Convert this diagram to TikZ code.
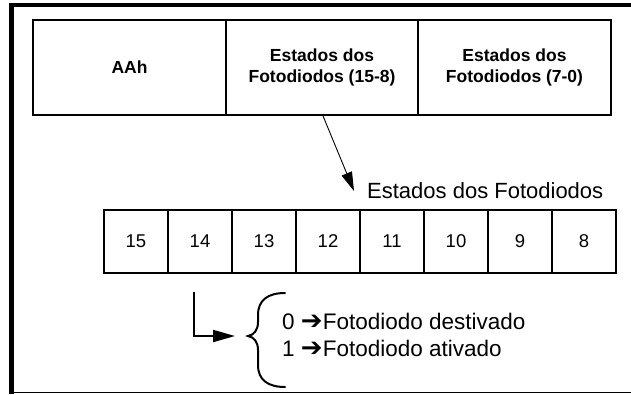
\documentclass[tikz,border=0pt]{standalone}
\usepackage{fontspec}
\setmainfont{Liberation Sans}
\newfontfamily\symfnt{DejaVu Sans}
\usetikzlibrary{arrows.meta}
\newcommand{\heavyarrow}{{\symfnt\fontsize{26}{26}\selectfont ➔}}
\begin{document}
\begin{tikzpicture}[x=1pt,y=-1pt,
  topcell/.style={draw,line width=1.8pt,minimum width=193pt,minimum height=95pt,inner sep=0pt,align=center,font=\bfseries\fontsize{17.5}{21}\selectfont},
  bitcell/.style={draw,line width=1.8pt,minimum width=64pt,minimum height=63pt,inner sep=0pt,font=\fontsize{18.5}{22}\selectfont},
  biglabel/.style={inner sep=0pt,anchor=base west,font=\fontsize{22}{26}\selectfont},
  legend/.style={inner sep=0pt,anchor=base west,font=\fontsize{22.5}{27}\selectfont},
  thinarrow/.style={line width=0.9pt,-{Triangle[length=19pt,width=11pt]}},
  elbowarrow/.style={line width=2pt,-{Triangle[length=22pt,width=12pt]}},
  bracestyle/.style={line width=2pt,line cap=round}]
\useasboundingbox (0,0) rectangle (631,394);
% outer frame
\fill (9,3.3) rectangle (631,7.3);
\fill (9,3.3) rectangle (14,394);
\fill (9,391.7) rectangle (631,393.3);
% top row
\node[topcell] (A) at (129.5,67.5) {AAh};
\node[topcell] (B) at (322,67.5) {Estados dos\\Fotodiodos (15-8)};
\node[topcell] (C) at (514.5,67.5) {Estados dos\\Fotodiodos (7-0)};
% label
\node[biglabel] (lbl) at (367,198) {Estados dos Fotodiodos};
\coordinate (tip) at (354,191);
\draw[thinarrow] ([xshift=1pt]B.south) -- (tip);
% bit row
\foreach \n [count=\i from 0] in {15,14,13,12,11,10,9,8}
  \node[bitcell] (b\n) at (136+64*\i,241.5) {\n};
% elbow arrow
\coordinate (e1) at (194,292);
\coordinate (e2) at (235,336);
\draw[elbowarrow] (e1) |- (e2);
% brace
\coordinate (bt) at (248,336);
\draw[bracestyle] (285,293) .. controls (268,293) and (258,300) .. (258,315) -- (258,322)
  .. controls (258,330) and (254,335) .. (bt)
  .. controls (254,337) and (258,342) .. (258,350) -- (258,365)
  .. controls (258,380) and (268,387) .. (285,387);
% legend
\node[legend] (l0) at (282,329) {0 \heavyarrow Fotodiodo destivado};
\node[legend] (l1) at (282,356) {1 \heavyarrow Fotodiodo ativado};
\end{tikzpicture}
\end{document}
